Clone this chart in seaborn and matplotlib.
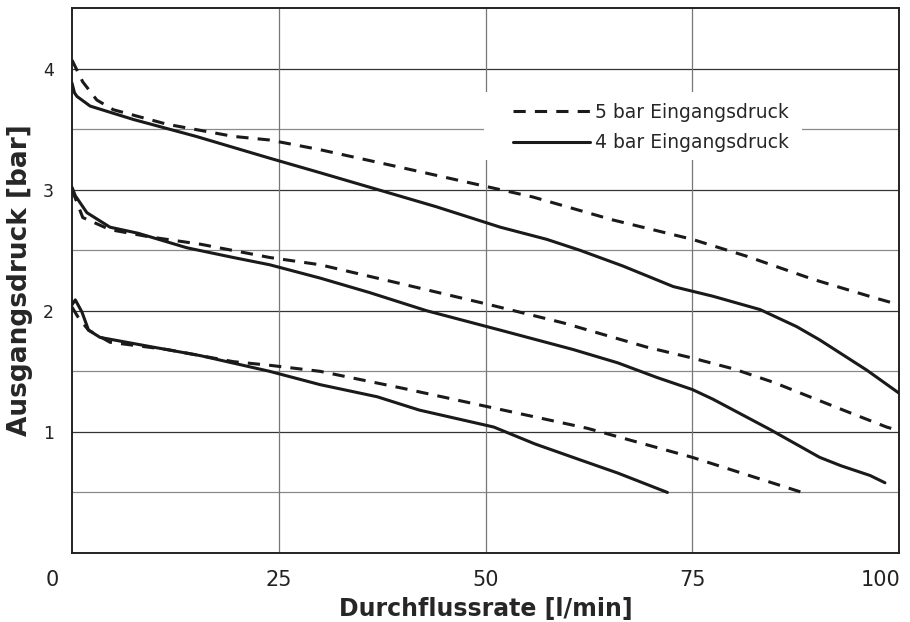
import numpy as np
import pandas as pd
import matplotlib
matplotlib.use("Agg")
import matplotlib.pyplot as plt
import matplotlib.transforms as mtransforms
from matplotlib.patches import Rectangle
import seaborn as sns

# curve data (flow l/min, outlet pressure bar)
hi_5bar_x = [0, 1.3, 3, 5, 11.5, 19.5, 23.9, 30, 40, 50.5, 55.7, 65.4, 75, 81.6, 89.6, 96.9, 100]
hi_5bar_y = [4.07, 3.89, 3.74, 3.66, 3.54, 3.44, 3.41, 3.33, 3.18, 3.02, 2.94, 2.75, 2.59, 2.45, 2.26, 2.11, 2.05]

hi_4bar_x = [0, 0.3, 0.6, 2.2, 7.4, 15, 23.9, 30, 36, 44, 51.8, 57.4, 61.4, 66.6, 72.7, 77.5, 83.2, 87.6, 90.4, 96.1, 100]
hi_4bar_y = [3.88, 3.80, 3.77, 3.69, 3.58, 3.44, 3.26, 3.14, 3.02, 2.86, 2.69, 2.59, 2.50, 2.37, 2.20, 2.12, 2.01, 1.87, 1.76, 1.51, 1.32]

mid_5bar_x = [0, 1.3, 4.6, 9.4, 15.5, 23.9, 30, 40, 50.5, 59.4, 69.5, 75, 80, 84.8, 89.2, 94, 98.5, 100]
mid_5bar_y = [3.00, 2.77, 2.67, 2.61, 2.55, 2.44, 2.38, 2.22, 2.05, 1.90, 1.70, 1.61, 1.52, 1.41, 1.29, 1.16, 1.04, 1.01]

mid_4bar_x = [0, 0.4, 1.8, 4.6, 8, 13.9, 19.5, 23.9, 30, 36, 42.9, 51.8, 60.6, 66, 70.7, 75, 77.5, 84.4, 90.4, 93, 96.5, 98.3]
mid_4bar_y = [3.02, 2.95, 2.81, 2.69, 2.64, 2.52, 2.44, 2.38, 2.27, 2.15, 2.00, 1.84, 1.68, 1.57, 1.45, 1.35, 1.27, 1.02, 0.79, 0.72, 0.64, 0.58]

lo_5bar_x = [0, 0.8, 2, 4.6, 11.5, 19.5, 23.9, 30, 40, 50.8, 62.3, 75, 88.3]
lo_5bar_y = [2.03, 1.94, 1.84, 1.74, 1.68, 1.58, 1.55, 1.50, 1.36, 1.20, 1.03, 0.79, 0.50]

lo_4bar_x = [0, 0.4, 1.2, 2, 3.4, 9.8, 15.5, 23.9, 30, 36.9, 42, 51, 56, 61.4, 66, 72]
lo_4bar_y = [2.05, 2.09, 1.99, 1.84, 1.78, 1.70, 1.63, 1.50, 1.39, 1.29, 1.18, 1.04, 0.90, 0.77, 0.66, 0.50]

label_5 = "5 bar Eingangsdruck"
label_4 = "4 bar Eingangsdruck"
x_ticks = [0, 25, 50, 75, 100]
y_ticks = [1, 2, 3, 4]
y_half = [0.5, 1.5, 2.5, 3.5]

curves = [
    ("hi5", label_5, hi_5bar_x, hi_5bar_y),
    ("hi4", label_4, hi_4bar_x, hi_4bar_y),
    ("mid5", label_5, mid_5bar_x, mid_5bar_y),
    ("mid4", label_4, mid_4bar_x, mid_4bar_y),
    ("lo5", label_5, lo_5bar_x, lo_5bar_y),
    ("lo4", label_4, lo_4bar_x, lo_4bar_y),
]
rows = []
for name, inlet, xs, ys in curves:
    for xv, yv in zip(xs, ys):
        rows.append({"curve": name, "inlet": inlet, "flow": xv, "pressure": yv})
df = pd.DataFrame(rows)

sns.set_theme(style="white")
plt.rcParams["font.family"] = ["DejaVu Sans"]

fig = plt.figure(figsize=(9.1, 6.22), dpi=100)
ax = fig.add_axes([72 / 910, 69 / 622, 827 / 910, 545 / 622])

sns.lineplot(data=df, x="flow", y="pressure", style="inlet", units="curve",
             estimator=None, sort=False, color="#1a1a1a", linewidth=2.2,
             style_order=[label_5, label_4],
             dashes={label_5: (4, 3), label_4: ""}, ax=ax, zorder=3)

ax.set_xlim(0, 100)
ax.set_ylim(0, 4.5)
ax.set_xticks(x_ticks)
ax.set_xticklabels([str(t) for t in x_ticks])
ax.set_yticks(y_ticks)
ax.set_yticklabels([str(t) for t in y_ticks])

ax.grid(False)
for yv in y_ticks:
    ax.axhline(yv, color="#333333", lw=0.9, zorder=1)
for yv in y_half:
    ax.axhline(yv, color="#8a8a8a", lw=0.9, zorder=1)
for xv in [25, 50, 75]:
    ax.axvline(xv, color="#777777", lw=0.9, zorder=1)

for s in ax.spines.values():
    s.set_color("#222222")
    s.set_linewidth(1.4)

ax.tick_params(axis="both", which="both", length=0)
ax.tick_params(axis="x", labelsize=15, pad=12, labelcolor="#222222")
ax.tick_params(axis="y", labelsize=12.5, pad=13, labelcolor="#222222")

ax.set_xlabel("Durchflussrate [l/min]", fontsize=17, fontweight="bold", labelpad=5)
ax.set_ylabel("Ausgangsdruck [bar]", fontsize=19, fontweight="bold", labelpad=7)

# shift first and last x tick labels like the reference
xl = ax.get_xticklabels()
xl[0].set_transform(xl[0].get_transform() + mtransforms.ScaledTranslation(-0.20, 0, fig.dpi_scale_trans))
xl[-1].set_transform(xl[-1].get_transform() + mtransforms.ScaledTranslation(-0.185, 0, fig.dpi_scale_trans))

# white block behind the legend, breaking the gridlines
ax.add_patch(Rectangle((0.498, 0.722), 0.385, 0.124, transform=ax.transAxes,
                       facecolor="white", edgecolor="none", zorder=2))

handles, labels = ax.get_legend_handles_labels()
keep = [(h, l) for h, l in zip(handles, labels) if l in (label_5, label_4)]
if ax.get_legend() is not None:
    ax.get_legend().remove()
leg = ax.legend([k[0] for k in keep], [k[1] for k in keep], loc="upper left",
                bbox_to_anchor=(0.533, 0.826), frameon=False, fontsize=13.5,
                handlelength=4.1, handletextpad=0.3, labelspacing=0.62,
                borderpad=0, borderaxespad=0)
leg.set_zorder(5)

fig.savefig("out.png", dpi=100)
